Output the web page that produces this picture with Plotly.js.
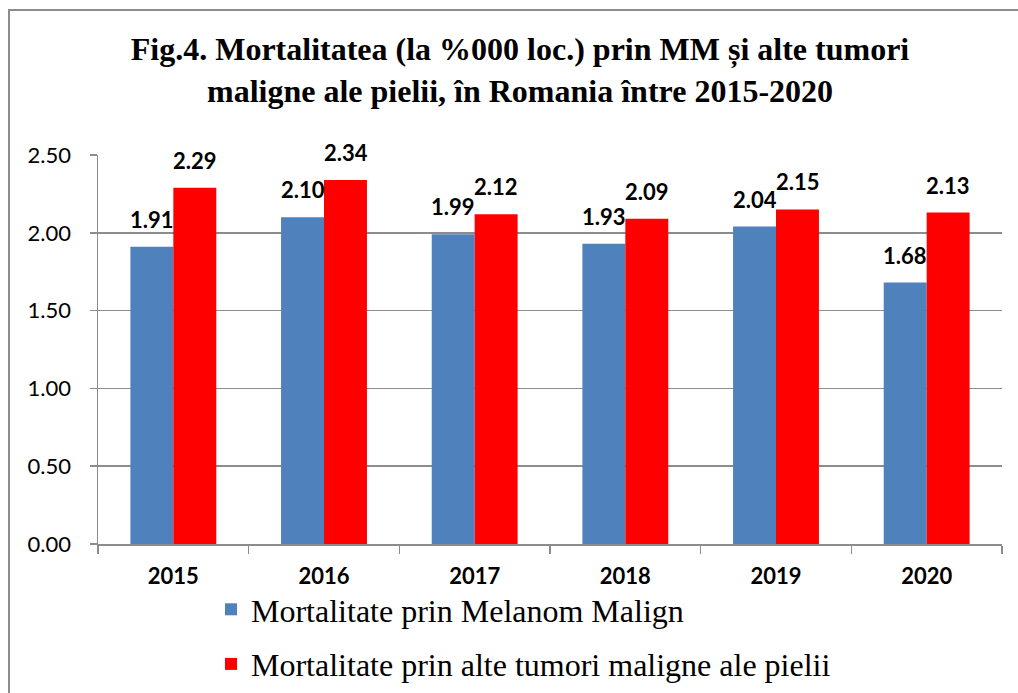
<!DOCTYPE html>
<html>
<head>
<meta charset="utf-8">
<script src="https://cdn.plot.ly/plotly-3.0.1.min.js"></script>
<style>
  html, body { margin: 0; padding: 0; background: #fff; overflow: hidden; }
  #wrap { position: relative; width: 1018px; height: 693px; }
  #chart { width: 1018px; height: 693px; }
  #frame { position: absolute; left: 8px; top: 9px; width: 1100px; height: 800px;
           border-left: 2px solid #8c8c8c; border-top: 2px solid #8c8c8c; pointer-events: none; }
</style>
</head>
<body>
<div id="wrap">
  <div id="chart"></div>
  <div id="frame"></div>
</div>
<script>
const years = ['2015', '2016', '2017', '2018', '2019', '2020'];
const melanom = [1.91, 2.10, 1.99, 1.93, 2.04, 1.68];
const alteTumori = [2.29, 2.34, 2.12, 2.09, 2.15, 2.13];
const seriesNames = ['Mortalitate prin Melanom Malign', 'Mortalitate prin alte tumori maligne ale pielii'];
const colors = ['#4F81BD', '#FF0000'];
const yTicks = [0, 0.5, 1.0, 1.5, 2.0, 2.5];

const traces = [
  { type: 'bar', x: years, y: melanom, name: seriesNames[0], marker: { color: colors[0] }, legendgroup: 'a', hoverinfo: 'none' },
  { type: 'bar', x: years, y: alteTumori, name: seriesNames[1], marker: { color: colors[1] }, legendgroup: 'b', hoverinfo: 'none' }
];

const annotations = [];
[melanom, alteTumori].forEach((arr, s) => {
  arr.forEach((v, i) => {
    annotations.push({
      x: i, y: v, xref: 'x', yref: 'y',
      text: v.toFixed(2), showarrow: false,
      xshift: s === 0 ? -21.5 : 21.5, yshift: 12, yanchor: 'bottom',
      font: { family: 'Lato, sans-serif', size: 22, color: '#000', weight: 'bold' }
    });
  });
});

const L = 98, R = 16, T = 155, B = 149;
const plotW = 1018 - L - R, plotH = 693 - T - B;

const layout = {
  width: 1018, height: 693,
  margin: { l: L, r: R, t: T, b: B, autoexpand: false },
  paper_bgcolor: '#fff', plot_bgcolor: '#fff',
  barmode: 'group', bargap: 0.43, bargroupgap: 0,
  title: {
    text: 'Fig.4. Mortalitatea (la %000 loc.) prin MM și alte tumori<br>maligne ale pielii, în Romania între 2015-2020',
    font: { family: '"Liberation Serif", "Times New Roman", serif', size: 32, color: '#000', weight: 'bold' },
    x: 520 / 1018, xref: 'container', xanchor: 'center',
    y: 1 - 60 / 693, yref: 'container', yanchor: 'top'
  },
  xaxis: {
    type: 'category', automargin: false, range: [-0.5, years.length - 0.5], autorange: false,
    showgrid: false, showline: true, linecolor: '#8c8c8c', linewidth: 1.5,
    ticks: 'outside', tickson: 'boundaries', ticklen: 8, tickcolor: '#8c8c8c', tickwidth: 1.5,
    tickfont: { family: 'Lato, sans-serif', size: 22, color: '#000', weight: 'bold' },
    tickangle: 0,
    ticklabelstandoff: 12,
    zeroline: false
  },
  yaxis: {
    range: [0, 2.5], autorange: false, tickvals: yTicks, tickformat: '.2f', automargin: false,
    showgrid: true, gridcolor: '#8c8c8c', gridwidth: 1.5,
    showline: true, linecolor: '#8c8c8c', linewidth: 1.5,
    ticks: 'outside', ticklen: 7, tickcolor: '#8c8c8c', tickwidth: 1.5,
    tickfont: { family: 'Lato, sans-serif', size: 22, color: '#000' },
    ticklabelstandoff: 14,
    zeroline: false
  },
  showlegend: true,
  legend: {
    orientation: 'v', traceorder: 'grouped', tracegroupgap: 10,
    x: (211 - L) / plotW, xanchor: 'left',
    y: (693 - B - 582) / plotH, yanchor: 'top',
    font: { family: '"Liberation Serif", "Times New Roman", serif', size: 32, color: '#000' },
    bgcolor: 'rgba(0,0,0,0)'
  },
  annotations: annotations
};

Plotly.newPlot('chart', traces, layout, { displayModeBar: false, staticPlot: true });
</script>
</body>
</html>
